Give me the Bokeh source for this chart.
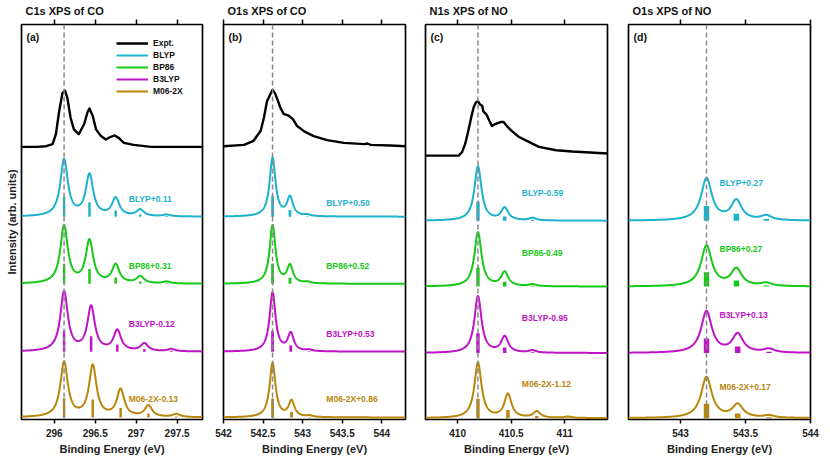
import numpy as np
from bokeh.plotting import figure
from bokeh.layouts import row
from bokeh.models import (Range1d, LinearAxis, FixedTicker, NumeralTickFormatter,
                          Span, Label, Legend, LegendItem, Title)
from bokeh.embed import file_html
from bokeh.resources import INLINE

FONT = "Liberation Sans"

METHODS = ["BLYP", "BP86", "B3LYP", "M06-2X"]
COLORS = {"Expt.": "#000000", "BLYP": "#1DB2CB", "BP86": "#17C917",
          "B3LYP": "#BF13C7", "M06-2X": "#B8860B"}

TITLES = ["C1s XPS of CO", "O1s XPS of CO", "N1s XPS of NO", "O1s XPS of NO"]
TAGS = ["(a)", "(b)", "(c)", "(d)"]
X_TICKS = [[296, 296.5, 297, 297.5],
           [542, 542.5, 543, 543.5, 544],
           [410, 410.5, 411],
           [543, 543.5, 544]]
REF_LINE = [296.12, 542.62, 410.19, 543.20]

a_expt_x = [295.60, 295.78, 295.90, 295.98, 296.02, 296.06, 296.10, 296.13, 296.16,
            296.20, 296.24, 296.30, 296.365, 296.41, 296.43, 296.47, 296.51, 296.57,
            296.63, 296.69, 296.74, 296.79, 296.85, 296.97, 297.18, 297.38, 297.81]
a_expt_y = [4.03, 4.03, 4.04, 4.07, 4.22, 4.56, 4.83, 4.87, 4.76,
            4.46, 4.29, 4.22, 4.37, 4.56, 4.60, 4.49, 4.29, 4.19,
            4.14, 4.18, 4.20, 4.16, 4.09, 4.06, 4.03, 4.03, 4.03]

b_expt_x = [542.00, 542.26, 542.38, 542.47, 542.51, 542.55, 542.59, 542.62, 542.65,
            542.68, 542.72, 542.76, 542.83, 542.88, 542.93, 543.02, 543.14, 543.31,
            543.52, 543.78, 543.82, 543.86, 544.11, 544.30]
b_expt_y = [4.04, 4.06, 4.12, 4.27, 4.46, 4.71, 4.81, 4.88, 4.83,
            4.74, 4.61, 4.52, 4.49, 4.44, 4.34, 4.26, 4.19, 4.13,
            4.09, 4.07, 4.08, 4.06, 4.05, 4.04]

c_expt_x = [409.70, 410.01, 410.04, 410.07, 410.10, 410.13, 410.15, 410.17, 410.19,
            410.21, 410.23, 410.24, 410.27, 410.29, 410.32, 410.35, 410.40, 410.43,
            410.46, 410.51, 410.57, 410.67, 410.76, 410.92, 411.07, 411.40]
c_expt_y = [3.90, 3.90, 3.95, 4.07, 4.27, 4.49, 4.62, 4.69, 4.71,
            4.66, 4.64, 4.56, 4.51, 4.44, 4.34, 4.37, 4.40, 4.40,
            4.34, 4.26, 4.18, 4.10, 4.03, 3.98, 3.96, 3.93]

a_blyp_pos = [296.12, 296.43, 296.75, 297.05, 297.37]
a_blyp_int = [0.296, 0.215, 0.093, 0.034, 0.009]
a_bp86_pos = [296.12, 296.43, 296.75, 297.05, 297.37]
a_bp86_int = [0.301, 0.222, 0.096, 0.036, 0.010]
a_b3lyp_pos = [296.12, 296.45, 296.77, 297.10, 297.43]
a_b3lyp_int = [0.311, 0.231, 0.107, 0.040, 0.012]
a_m06_pos = [296.12, 296.47, 296.81, 297.15, 297.49]
a_m06_int = [0.286, 0.267, 0.142, 0.059, 0.016]

b_blyp_pos = [542.62, 542.84, 543.06]
b_blyp_int = [0.305, 0.098, 0.007]
b_bp86_pos = [542.62, 542.84, 543.06]
b_bp86_int = [0.304, 0.092, 0.007]
b_b3lyp_pos = [542.62, 542.85, 543.08]
b_b3lyp_int = [0.308, 0.092, 0.007]
b_m06_pos = [542.62, 542.86, 543.09]
b_m06_int = [0.283, 0.083, 0.007]

c_blyp_pos = [410.19, 410.44, 410.70]
c_blyp_int = [0.283, 0.064, 0.013]
c_bp86_pos = [410.19, 410.44, 410.70]
c_bp86_int = [0.283, 0.073, 0.010]
c_b3lyp_pos = [410.19, 410.44, 410.70]
c_b3lyp_int = [0.296, 0.083, 0.012]
c_m06_pos = [410.19, 410.47, 410.74, 411.03]
c_m06_int = [0.289, 0.123, 0.033, 0.007]

d_blyp_pos = [543.20, 543.43, 543.66]
d_blyp_int = [0.219, 0.102, 0.024]
d_bp86_pos = [543.20, 543.43, 543.66]
d_bp86_int = [0.212, 0.089, 0.016]
d_b3lyp_pos = [543.20, 543.44, 543.68]
d_b3lyp_int = [0.216, 0.096, 0.019]
d_m06_pos = [543.20, 543.44, 543.68]
d_m06_int = [0.213, 0.068, 0.012]

a_shift = ["BLYP+0.11", "BP86+0.31", "B3LYP-0.12", "M06-2X-0.13"]
b_shift = ["BLYP+0.50", "BP86+0.52", "B3LYP+0.53", "M06-2X+0.86"]
c_shift = ["BLYP-0.59", "BP86-0.49", "B3LYP-0.95", "M06-2X-1.12"]
d_shift = ["BLYP+0.27", "BP86+0.27", "B3LYP+0.13", "M06-2X+0.17"]

GAMMA = [0.055, 0.045, 0.040, 0.050]

X_RANGES = [(295.6, 297.81), (542.0, 544.3), (409.7, 411.4), (542.6, 544.0)]
Y_RANGE = (-0.03, 5.852)
OFFSETS = [[2.99, 1.99, 0.98, 0.0], [2.99, 1.99, 0.98, 0.0],
           [2.93, 1.95, 0.96, -0.01], [2.93, 1.95, 0.96, -0.01]]
SCALE = 2.85
BAR_W = [0.030, 0.035, 0.032, 0.042]
TEXT_X = [296.91, 543.30, 410.60, 543.30]
TEXT_Y = [[3.26, 2.25, 1.39, 0.27], [3.20, 2.26, 1.25, 0.27],
          [3.34, 2.45, 1.48, 0.50], [3.49, 2.51, 1.53, 0.45]]
WIDTHS = [212, 203, 202, 211]
BORDER_L = [20, 11, 10, 11]
BORDER_R = [10, 10, 10, 18]
HEIGHT = 457

panels = [
    dict(expt=(a_expt_x, a_expt_y),
         sticks=[(a_blyp_pos, a_blyp_int), (a_bp86_pos, a_bp86_int),
                 (a_b3lyp_pos, a_b3lyp_int), (a_m06_pos, a_m06_int)],
         shifts=a_shift),
    dict(expt=(b_expt_x, b_expt_y),
         sticks=[(b_blyp_pos, b_blyp_int), (b_bp86_pos, b_bp86_int),
                 (b_b3lyp_pos, b_b3lyp_int), (b_m06_pos, b_m06_int)],
         shifts=b_shift),
    dict(expt=(c_expt_x, c_expt_y),
         sticks=[(c_blyp_pos, c_blyp_int), (c_bp86_pos, c_bp86_int),
                 (c_b3lyp_pos, c_b3lyp_int), (c_m06_pos, c_m06_int)],
         shifts=c_shift),
    dict(expt=None,
         sticks=[(d_blyp_pos, d_blyp_int), (d_bp86_pos, d_bp86_int),
                 (d_b3lyp_pos, d_b3lyp_int), (d_m06_pos, d_m06_int)],
         shifts=d_shift),
]


def broaden(xg, pos, inten, gamma):
    out = np.zeros_like(xg)
    for x0, h in zip(pos, inten):
        out += h / (1.0 + ((xg - x0) / gamma) ** 2)
    return SCALE * out


figs = []
for i, pan in enumerate(panels):
    xs, xe = X_RANGES[i]
    p = figure(width=WIDTHS[i], height=HEIGHT,
               x_range=Range1d(xs, xe), y_range=Range1d(*Y_RANGE),
               output_backend="svg", toolbar_location=None,
               y_axis_location=None, x_axis_location="below",
               min_border_left=BORDER_L[i], min_border_right=BORDER_R[i],
               min_border_top=0, min_border_bottom=0,
               title=TITLES[i])
    p.grid.visible = False
    p.outline_line_color = "black"
    p.outline_line_width = 1.7

    p.title.align = "left"
    p.title.offset = 4
    p.title.standoff = 5
    p.title.text_font = FONT
    p.title.text_font_style = "bold"
    p.title.text_font_size = "11px"
    p.title.text_color = "#111111"

    ax = p.xaxis[0]
    ax.ticker = FixedTicker(ticks=X_TICKS[i])
    ax.formatter = NumeralTickFormatter(format="0.[0]")
    ax.major_tick_out = 4
    ax.major_tick_in = 0
    ax.major_tick_line_width = 1.5
    ax.major_tick_line_color = "black"
    ax.minor_tick_line_color = None
    ax.axis_line_color = None
    ax.major_label_text_font = FONT
    ax.major_label_text_font_style = "bold"
    ax.major_label_text_font_size = "10px"
    ax.major_label_text_color = "#222222"
    ax.major_label_standoff = 5
    ax.axis_label = "Binding Energy (eV)"
    ax.axis_label_text_font = FONT
    ax.axis_label_text_font_style = "bold"
    ax.axis_label_text_font_size = "11px"
    ax.axis_label_text_color = "#222222"
    ax.axis_label_standoff = 3

    # mirrored ticks along the top edge of the frame
    top = LinearAxis(ticker=FixedTicker(ticks=X_TICKS[i]),
                     major_tick_out=5, major_tick_in=0,
                     major_tick_line_width=1.5, major_tick_line_color="black",
                     minor_tick_line_color=None, axis_line_color=None,
                     major_label_overrides={t: "" for t in X_TICKS[i]},
                     major_label_text_font_size="1px",
                     major_label_standoff=0)
    p.add_layout(top, "above")

    if i == 0:
        p.add_layout(Title(text="Intensity (arb. units)", align="center",
                           standoff=7, offset=0, text_font=FONT,
                           text_font_style="bold", text_font_size="11px",
                           text_color="#222222"), "left")

    xg = np.linspace(xs, xe, 900)
    rends = []
    if pan["expt"] is not None:
        r = p.line(pan["expt"][0], pan["expt"][1], line_color=COLORS["Expt."],
                   line_width=2.4, line_join="round")
        rends.append(r)
    for k, (pos, inten) in enumerate(pan["sticks"]):
        m = METHODS[k]
        off = OFFSETS[i][k]
        col = COLORS[m]
        tops = [off + h for h in inten]
        p.vbar(x=pos, width=BAR_W[i], bottom=off, top=tops,
               fill_color=col, line_color=None)
        yg = off + broaden(xg, pos, inten, GAMMA[i])
        r = p.line(xg, yg, line_color=col, line_width=2.0, line_join="round")
        rends.append(r)
        p.add_layout(Label(x=TEXT_X[i], y=TEXT_Y[i][k], text=pan["shifts"][k],
                           text_font=FONT, text_font_style="bold",
                           text_font_size="8.5px", text_color=col,
                           text_align="left", text_baseline="middle"))

    p.add_layout(Span(location=REF_LINE[i], dimension="height",
                      line_color="#8a8a8a", line_width=1.5, line_dash="5 3"))

    p.add_layout(Label(x=xs, y=Y_RANGE[1], x_offset=5, y_offset=-6,
                       text=TAGS[i], text_font=FONT, text_font_style="bold",
                       text_font_size="10.5px", text_color="#111111",
                       text_align="left", text_baseline="top"))
    if i == 0:
        names = ["Expt."] + METHODS
        legend = Legend(items=[LegendItem(label=n, renderers=[r])
                               for n, r in zip(names, rends)],
                        location=(95, 322), padding=0, margin=0, spacing=0,
                        glyph_width=32, glyph_height=12, label_height=12,
                        label_standoff=5, border_line_color=None,
                        background_fill_alpha=0,
                        label_text_font=FONT, label_text_font_style="bold",
                        label_text_font_size="8.5px", label_text_color="#111111")
        p.add_layout(legend)
    figs.append(p)

layout = row(*figs, spacing=0)
open("out.html", "w").write(file_html(layout, INLINE))
